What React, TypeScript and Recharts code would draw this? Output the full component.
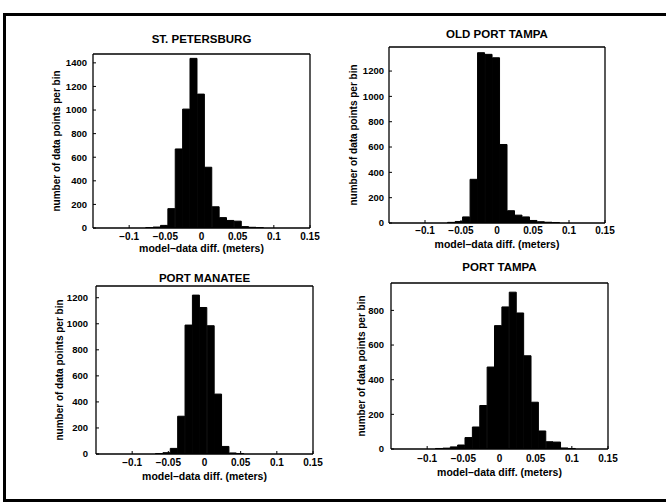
import React from "react"
import { BarChart, Bar, XAxis, YAxis, Label } from "recharts"

// shared x ticks (meters)
const xTicks = [-0.1, -0.05, 0, 0.05, 0.1, 0.15]

// ST. PETERSBURG
const stPeteBins = [-0.072, -0.0618, -0.0516, -0.0414, -0.0312, -0.021, -0.0108, -0.0006, 0.0096, 0.0198, 0.03, 0.0402, 0.0504, 0.0606, 0.0708, 0.081]
const stPeteCounts = [3, 8, 22, 164, 670, 1008, 1438, 1135, 515, 180, 88, 64, 58, 12, 6, 3]
const stPeteYTicks = [0, 200, 400, 600, 800, 1000, 1200, 1400]

// OLD PORT TAMPA
const oldTampaBins = [-0.0634, -0.053, -0.0426, -0.0322, -0.0218, -0.0114, -0.001, 0.0094, 0.0198, 0.0302, 0.0406, 0.051, 0.0614, 0.0718, 0.0822]
const oldTampaCounts = [5, 12, 48, 345, 1345, 1332, 1305, 620, 97, 62, 48, 20, 10, 6, 4]
const oldTampaYTicks = [0, 200, 400, 600, 800, 1000, 1200]

// PORT MANATEE
const manateeBins = [-0.0626, -0.0524, -0.0422, -0.032, -0.0218, -0.0116, -0.0014, 0.0088, 0.019, 0.0292, 0.0394, 0.0496]
const manateeCounts = [3, 10, 43, 290, 990, 1220, 1125, 985, 460, 58, 8, 3]
const manateeYTicks = [0, 200, 400, 600, 800, 1000, 1200]

// PORT TAMPA
const tampaBins = [-0.0834, -0.0732, -0.063, -0.0528, -0.0426, -0.0324, -0.0222, -0.012, -0.0018, 0.0084, 0.0186, 0.0288, 0.039, 0.0492, 0.0594, 0.0696, 0.0798, 0.09, 0.1002]
const tampaCounts = [3, 5, 12, 23, 66, 127, 251, 473, 712, 820, 905, 785, 538, 270, 104, 42, 40, 6, 3]
const tampaYTicks = [0, 200, 400, 600, 800]

const FONT = '"Liberation Sans", Arial, Helvetica, sans-serif'
const axisLine = { stroke: "#000", strokeWidth: 1.3 }
const tickLine = { stroke: "#000", strokeWidth: 1 }
const RIGHT_PAD = 16 // room for the "0.15" label past the box

function fmtX(v: number) {
  if (v === 0) return "0"
  return v < 0 ? "\u2212" + String(-v) : String(v)
}

interface Box {
  l: number; r: number; t: number; b: number
  yTitleX: number; yTickRight: number
  xTickY: number; xTitleY: number; titleY: number
}

interface Props {
  title: string
  bins: number[]
  counts: number[]
  yTicks: number[]
  yMax: number
  box: Box
}

function Histogram({ title, bins, counts, yTicks, yMax, box }: Props) {
  const data = bins.map((x, i) => ({ x, n: counts[i] }))

  // work the chart frame back from where the plot box should sit
  const left = 2 * box.yTitleX - box.l
  const top = 2 * box.titleY - box.t
  const yAxisW = box.l - left
  const topH = box.t - top
  const xAxisH = 2 * (box.xTitleY - box.b)
  const width = box.r + 4 + RIGHT_PAD - left
  const height = box.b + xAxisH - top

  return (
    <div style={{ position: "absolute", left, top }}>
      <BarChart
        width={width}
        height={height}
        data={data}
        margin={{ top: 0, right: RIGHT_PAD, bottom: 0, left: 0 }}
        barCategoryGap={0}
        barGap={0}
      >
        <XAxis
          type="number"
          dataKey="x"
          domain={[-0.15, 0.15]}
          ticks={xTicks}
          interval={0}
          allowDataOverflow
          height={xAxisH}
          tickSize={-3}
          tickMargin={box.xTickY - box.b - 0.55}
          tickFormatter={fmtX}
          tick={{ fill: "#000", fontSize: 10 }}
          axisLine={axisLine}
          tickLine={tickLine}
        >
          <Label value="model–data diff. (meters)" position="center" fill="#000" fontSize={10.5} />
        </XAxis>
        <XAxis
          xAxisId="top"
          orientation="top"
          type="number"
          domain={[-0.15, 0.15]}
          ticks={xTicks}
          interval={0}
          allowDataOverflow
          height={topH}
          tick={false}
          tickSize={-3}
          axisLine={axisLine}
          tickLine={tickLine}
        >
          <Label value={title} position="center" fill="#000" fontSize={11.5} />
        </XAxis>
        <YAxis
          domain={[0, yMax]}
          ticks={yTicks}
          interval={0}
          allowDataOverflow
          width={yAxisW}
          tickSize={-3}
          tickMargin={box.l + 3 - box.yTickRight}
          tick={{ fill: "#000", fontSize: 9.5 }}
          axisLine={axisLine}
          tickLine={tickLine}
        >
          <Label value="number of data points per bin" position="center" angle={-90} fill="#000" fontSize={10} />
        </YAxis>
        <YAxis
          yAxisId="right"
          orientation="right"
          domain={[0, yMax]}
          ticks={yTicks}
          interval={0}
          allowDataOverflow
          width={4}
          tick={false}
          tickSize={-3}
          axisLine={axisLine}
          tickLine={tickLine}
        />
        <Bar dataKey="n" fill="#000" stroke="#000" strokeWidth={1} isAnimationActive={false} />
      </BarChart>
    </div>
  )
}

export default function App() {
  return (
    <div
      style={{
        position: "absolute",
        left: 0,
        top: 0,
        width: 666,
        height: 504,
        overflow: "hidden",
        background: "#fff",
        fontFamily: FONT,
        fontWeight: "bold",
      }}
    >
      <div
        style={{
          position: "absolute",
          left: 3,
          top: 13,
          width: 700,
          height: 489,
          border: "3px solid #000",
          boxSizing: "border-box",
        }}
      />
      <Histogram
        title="ST. PETERSBURG"
        bins={stPeteBins}
        counts={stPeteCounts}
        yTicks={stPeteYTicks}
        yMax={1475}
        box={{ l: 93, r: 310, t: 54, b: 228, yTitleX: 56.5, yTickRight: 87, xTickY: 236, xTitleY: 248.5, titleY: 39 }}
      />
      <Histogram
        title="OLD PORT TAMPA"
        bins={oldTampaBins}
        counts={oldTampaCounts}
        yTicks={oldTampaYTicks}
        yMax={1390}
        box={{ l: 389, r: 605, t: 47, b: 223, yTitleX: 353, yTickRight: 384, xTickY: 230, xTitleY: 244, titleY: 34 }}
      />
      <Histogram
        title="PORT MANATEE"
        bins={manateeBins}
        counts={manateeCounts}
        yTicks={manateeYTicks}
        yMax={1290}
        box={{ l: 96, r: 313, t: 286, b: 454, yTitleX: 59, yTickRight: 88, xTickY: 462.5, xTitleY: 476, titleY: 277.5 }}
      />
      <Histogram
        title="PORT TAMPA"
        bins={tampaBins}
        counts={tampaCounts}
        yTicks={tampaYTicks}
        yMax={958}
        box={{ l: 391, r: 608, t: 283, b: 449, yTitleX: 361, yTickRight: 384, xTickY: 458, xTitleY: 472.5, titleY: 267 }}
      />
    </div>
  )
}
